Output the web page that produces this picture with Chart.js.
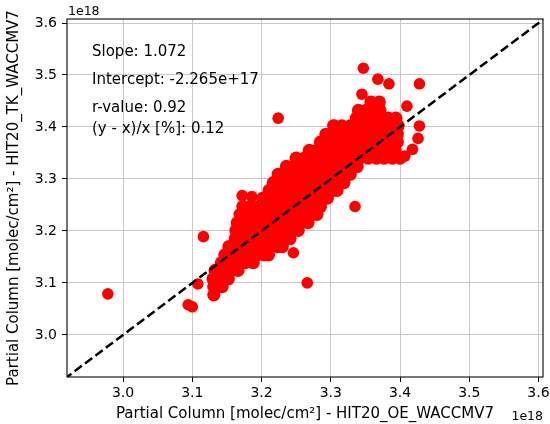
<!DOCTYPE html>
<html><head><meta charset="utf-8">
<script src="https://cdn.jsdelivr.net/npm/chart.js@4"></script>
<style>html,body{margin:0;padding:0;background:#fff}</style>
</head><body>
<canvas id="c" width="550" height="424"></canvas>
<script>
// ---- data (units of 1e18 molec/cm2) ----
const tickValues = [3.0, 3.1, 3.2, 3.3, 3.4, 3.5, 3.6];
const clusterY = [3.448,3.432,3.417,3.402,3.386,3.371,3.355,3.340,3.324,3.309,3.293,3.278,3.263,3.247,3.232,3.216,3.201,3.185,3.170,3.154,3.139,3.124,3.108,3.093,3.077];
const clusterX = [
  [3.358,3.370],
  [3.340,3.351,3.363,3.371],
  [3.337,3.348,3.360,3.371,3.383,3.394],
  [3.305,3.316,3.328,3.340,3.351,3.363,3.374,3.386,3.397],
  [3.293,3.305,3.316,3.328,3.340,3.351,3.363,3.374,3.386,3.396],
  [3.285,3.296,3.308,3.319,3.331,3.342,3.354,3.366,3.377,3.389,3.396],
  [3.269,3.280,3.292,3.303,3.315,3.327,3.338,3.350,3.361,3.373,3.384,3.393],
  [3.250,3.262,3.273,3.285,3.296,3.308,3.319,3.331,3.342,3.354,3.366,3.377,3.389,3.400],
  [3.236,3.247,3.259,3.270,3.282,3.293,3.305,3.316,3.328,3.338],
  [3.224,3.236,3.247,3.259,3.270,3.282,3.293,3.305,3.316,3.328],
  [3.217,3.228,3.240,3.251,3.263,3.275,3.286,3.298,3.309,3.319],
  [3.211,3.223,3.234,3.246,3.257,3.269,3.280,3.292,3.303,3.309],
  [3.202,3.214,3.225,3.237,3.249,3.260,3.272,3.283,3.295],
  [3.173,3.185,3.197,3.208,3.220,3.231,3.243,3.254,3.266,3.277,3.285],
  [3.169,3.181,3.192,3.204,3.215,3.227,3.238,3.250,3.262,3.273,3.280],
  [3.165,3.176,3.188,3.199,3.211,3.223,3.234,3.246,3.257,3.267],
  [3.163,3.175,3.186,3.198,3.210,3.221,3.233,3.244,3.253],
  [3.162,3.173,3.185,3.197,3.208,3.220,3.231,3.241],
  [3.153,3.165,3.176,3.188,3.199,3.211,3.223,3.230],
  [3.147,3.159,3.171,3.182,3.194,3.204,3.210],
  [3.142,3.153,3.165,3.176,3.188],
  [3.133,3.145,3.156,3.166],
  [3.130,3.142,3.152],
  [3.131,3.143],
  [3.131]
];
const outlierX = [2.978,3.094,3.100,3.108,3.116,3.266,3.246,3.335,3.224,3.303,3.347,3.368,3.384,3.428,3.345,3.410,3.428,3.426,3.418,3.407,3.172,3.186];
const outlierY = [3.079,3.058,3.054,3.098,3.189,3.100,3.158,3.247,3.417,3.403,3.513,3.492,3.483,3.483,3.463,3.440,3.402,3.378,3.357,3.344,3.268,3.266];
const oneToOne = [2.9, 3.62];
const axisMin = 2.919, xAxisMax = 3.6065, yAxisMax = 3.6077;
const statsLines = ['Slope: 1.072', 'Intercept: -2.265e+17', 'r-value: 0.92', '(y - x)/x [%]: 0.12'];
const offsetText = '1e18';
const xTitle = 'Partial Column [molec/cm\u00B2] - HIT20_OE_WACCMV7';
const yTitle = 'Partial Column [molec/cm\u00B2] - HIT20_TK_WACCMV7';

// ---- build datasets ----
const clusterPts = clusterY.flatMap((y, i) => clusterX[i].map(x => ({x, y})));
const outlierPts = outlierX.map((x, i) => ({x, y: outlierY[i]}));
const linePts = oneToOne.map(v => ({x: v, y: v}));

const FONT = '"DejaVu Sans", sans-serif';
const statsBaselines = [37, 65, 93, 114];

const overlay = {
  id: 'overlay',
  beforeDraw(chart) {
    const c = chart.ctx;
    c.save();
    c.fillStyle = '#ffffff';
    c.fillRect(0, 0, chart.width, chart.height);
    c.restore();
  },
  afterDatasetsDraw(chart) {
    const {ctx, chartArea: a} = chart;
    ctx.save();
    ctx.strokeStyle = '#1a1a1a';
    ctx.lineWidth = 1.2;
    ctx.strokeRect(a.left, a.top, a.right - a.left, a.bottom - a.top);
    ctx.fillStyle = '#000';
    ctx.font = '15px ' + FONT;
    ctx.textAlign = 'left';
    ctx.textBaseline = 'alphabetic';
    statsLines.forEach((t, i) => ctx.fillText(t, a.left + 25, a.top + statsBaselines[i]));
    ctx.font = '12.5px ' + FONT;
    ctx.fillText(offsetText, a.left + 1, a.top - 4);
    ctx.textAlign = 'right';
    ctx.fillText(offsetText, a.right, a.bottom + 43);
    ctx.restore();
  }
};

const tickCfg = {
  color: '#000',
  font: {family: FONT, size: 14},
  maxRotation: 0,
  autoSkip: false,
  callback: v => v.toFixed(1)
};
const gridCfg = {color: '#c8c8c8', lineWidth: 1, tickColor: '#000', tickLength: 5, drawTicks: true};

new Chart(document.getElementById('c'), {
  type: 'scatter',
  data: {
    datasets: [
      {data: linePts, showLine: true, borderColor: '#000', borderWidth: 2.5, borderDash: [9, 4],
       pointRadius: 0, fill: false, order: 0, clip: 0},
      {data: clusterPts, backgroundColor: '#ff0000', borderColor: '#ff0000',
       borderWidth: 0, pointRadius: 6.6, order: 1, clip: 0},
      {data: outlierPts, backgroundColor: '#ff0000', borderColor: '#ff0000',
       borderWidth: 0, pointRadius: 5.8, order: 2, clip: 0}
    ]
  },
  options: {
    responsive: false,
    animation: false,
    devicePixelRatio: 1,
    events: [],
    layout: {padding: {top: 19, right: 7, left: 0, bottom: 0}},
    plugins: {legend: {display: false}, tooltip: {enabled: false}},
    scales: {
      x: {
        type: 'linear', min: axisMin, max: xAxisMax,
        afterBuildTicks: s => { s.ticks = tickValues.map(v => ({value: v})); },
        afterFit: s => { s.height = 47; s.paddingLeft = 0; s.paddingRight = 0; },
        ticks: Object.assign({}, tickCfg, {padding: 3}),
        grid: gridCfg,
        border: {display: false},
        title: {display: true, text: xTitle, color: '#000', font: {family: FONT, size: 15},
                padding: {top: 0, bottom: 0.5}}
      },
      y: {
        type: 'linear', min: axisMin, max: yAxisMax,
        afterBuildTicks: s => { s.ticks = tickValues.map(v => ({value: v})); },
        afterFit: s => { s.width = 67; s.paddingTop = 0; s.paddingBottom = 0; },
        ticks: Object.assign({}, tickCfg, {padding: 5}),
        grid: gridCfg,
        border: {display: false},
        title: {display: true, text: yTitle, color: '#000', font: {family: FONT, size: 15},
                padding: {top: 5.5, bottom: 0}}
      }
    }
  },
  plugins: [overlay]
});
</script>
</body></html>
